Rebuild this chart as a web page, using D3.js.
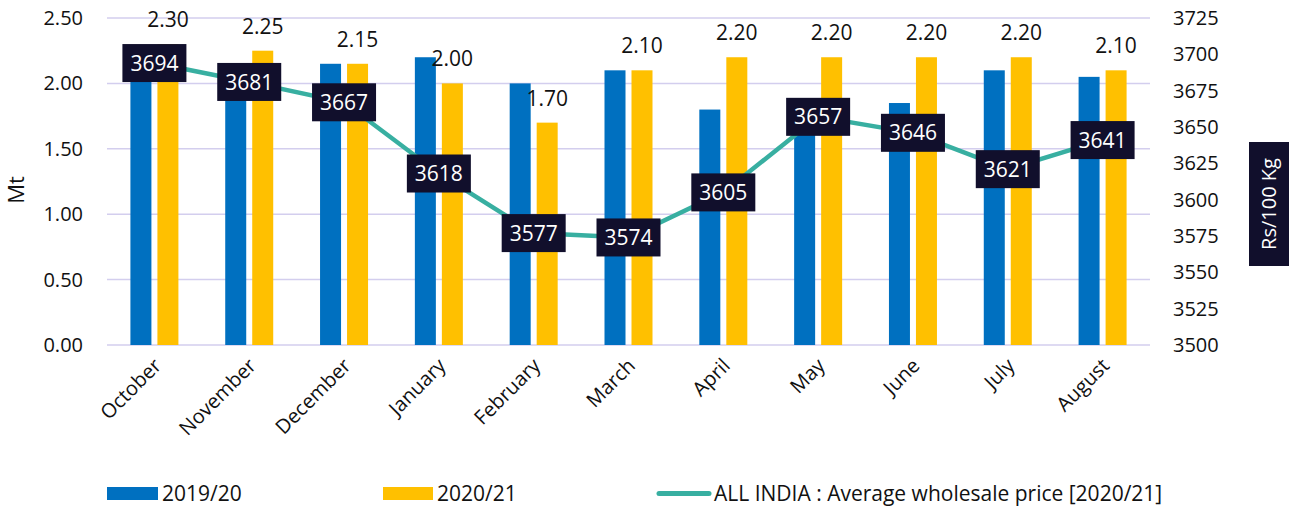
<!DOCTYPE html>
<html><head><meta charset="utf-8">
<script src="https://cdn.jsdelivr.net/npm/d3@7"></script>
<style>body{margin:0;background:#fff}svg{display:block;font-family:"Open Sans",sans-serif}</style>
</head><body><svg id="c" width="1294" height="506"></svg>
<script>
const months = ["October","November","December","January","February","March","April","May","June","July","August"];
const s2019 = [2.05,2.00,2.15,2.20,2.00,2.10,1.80,1.70,1.85,2.10,2.05];
const s2020 = [2.30,2.25,2.15,2.00,1.70,2.10,2.20,2.20,2.20,2.20,2.10];
const price = [3694,3681,3667,3618,3577,3574,3605,3657,3646,3621,3641];
const leftTicks = [0,0.5,1,1.5,2,2.5];
const rightTicks = [3500,3525,3550,3575,3600,3625,3650,3675,3700,3725];
const legendLabels = ["2019/20","2020/21","ALL INDIA : Average wholesale price [2020/21]"];
const colors = {b:"#0070C0", o:"#FFC000", line:"#38AFA1", box:"#110F2C", grid:"#D3CEEE"};

const svg = d3.select("#c");
const L=107,R=1150,T=18,B=345;
const x = d3.scaleBand().domain(months).range([L,R]);
const y = d3.scaleLinear().domain([0,2.5]).range([B,T]);
const y2 = d3.scaleLinear().domain([3500,3725]).range([B,T]);
const bw=21, gap=6;

// grid
svg.append("g").selectAll("line").data(leftTicks).join("line")
  .attr("x1",L).attr("x2",R).attr("y1",d=>y(d)).attr("y2",d=>y(d))
  .attr("stroke",colors.grid).attr("stroke-width",1.5);

// left axis
const ga = svg.append("g").attr("transform",`translate(${L-24},0)`)
  .call(d3.axisLeft(y).tickValues(leftTicks).tickFormat(d3.format(".2f")).tickSize(0).tickPadding(0));
ga.select(".domain").remove();
ga.selectAll("text").attr("font-size",20).attr("fill","#111").attr("font-family","Open Sans");

// right axis
const gr = svg.append("g").attr("transform",`translate(${R+23},0)`)
  .call(d3.axisRight(y2).tickValues(rightTicks).tickFormat(d3.format("d")).tickSize(0).tickPadding(0));
gr.select(".domain").remove();
gr.selectAll("text").attr("font-size",20).attr("fill","#111").attr("font-family","Open Sans");

// bars
const gb = svg.append("g");
gb.selectAll("rect.b").data(s2019).join("rect").attr("class","b")
  .attr("x",(d,i)=>x(months[i])+x.bandwidth()/2-gap/2-bw).attr("width",bw)
  .attr("y",d=>y(d)).attr("height",d=>B-y(d)).attr("fill",colors.b);
gb.selectAll("rect.o").data(s2020).join("rect").attr("class","o")
  .attr("x",(d,i)=>x(months[i])+x.bandwidth()/2+gap/2).attr("width",bw)
  .attr("y",d=>y(d)).attr("height",d=>B-y(d)).attr("fill",colors.o);

// orange labels
gb.selectAll("text.ol").data(s2020).join("text").attr("class","ol")
  .attr("x",(d,i)=>x(months[i])+x.bandwidth()/2+gap/2+bw/2)
  .attr("y",d=>y(d)-17).attr("text-anchor","middle").attr("font-size",21).attr("fill","#111")
  .text(d=>d3.format(".2f")(d));

// line
const px = (d,i)=>x(months[i])+x.bandwidth()/2;
svg.append("path").datum(price)
  .attr("d", d3.line().x(px).y(d=>y2(d)))
  .attr("fill","none").attr("stroke",colors.line).attr("stroke-width",4.5);

// price labels
const gl = svg.append("g").selectAll("g").data(price).join("g")
  .attr("transform",(d,i)=>`translate(${px(d,i)},${y2(d)})`);
gl.append("rect").attr("x",-32).attr("y",-19).attr("width",64).attr("height",38).attr("fill",colors.box);
gl.append("text").attr("text-anchor","middle").attr("dy","0.36em").attr("font-size",21).attr("fill","#fff")
  .text(d=>d);

// x labels
svg.append("g").selectAll("text").data(months).join("text")
  .attr("transform",d=>`translate(${x(d)+x.bandwidth()/2+8},${B+22}) rotate(-45)`)
  .attr("text-anchor","end").attr("font-size",20).attr("fill","#111").text(d=>d);

// axis titles
svg.append("text").attr("transform","translate(24,190) rotate(-90)").attr("text-anchor","middle")
  .attr("font-size",22).attr("fill","#111").text("Mt");
svg.append("rect").attr("x",1249).attr("y",142).attr("width",40).attr("height",124).attr("fill",colors.box);
svg.append("text").attr("transform","translate(1276,204) rotate(-90)").attr("text-anchor","middle")
  .attr("font-size",20).attr("fill","#fff").text("Rs/100 Kg");

// legend
const lg = svg.append("g");
lg.append("rect").attr("x",107).attr("y",487).attr("width",51).attr("height",13).attr("fill",colors.b);
lg.append("text").attr("x",162).attr("y",501).attr("font-size",21).attr("fill","#111").text(legendLabels[0]);
lg.append("rect").attr("x",383).attr("y",487).attr("width",50).attr("height",13).attr("fill",colors.o);
lg.append("text").attr("x",437).attr("y",501).attr("font-size",21).attr("fill","#111").text(legendLabels[1]);
lg.append("line").attr("x1",659).attr("x2",709).attr("y1",493.5).attr("y2",493.5)
  .attr("stroke",colors.line).attr("stroke-width",5).attr("stroke-linecap","round");
lg.append("text").attr("x",714).attr("y",501).attr("font-size",21).attr("fill","#111").text(legendLabels[2]);
</script></body></html>
